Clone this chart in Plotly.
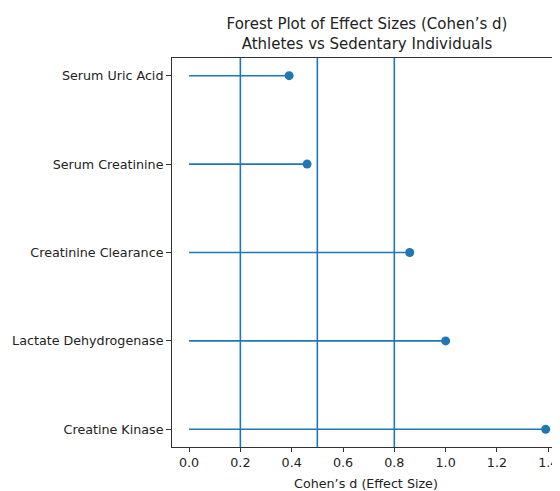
import plotly.graph_objects as go

categories = ["Creatine Kinase", "Lactate Dehydrogenase", "Creatinine Clearance",
              "Serum Creatinine", "Serum Uric Acid"]
effect_sizes = [1.39, 1.00, 0.86, 0.46, 0.39]
thresholds = [0.2, 0.5, 0.8]
x_ticks = [0.0, 0.2, 0.4, 0.6, 0.8, 1.0, 1.2, 1.4]

blue = "#1f77b4"
font = "DejaVu Sans"

fig = go.Figure()
ypos = list(range(len(categories)))
for i, v in zip(ypos, effect_sizes):
    fig.add_trace(go.Scatter(x=[0, v], y=[i, i], mode="lines",
                             line=dict(color=blue, width=1.6), showlegend=False,
                             hoverinfo="skip"))
fig.add_trace(go.Scatter(x=effect_sizes, y=ypos, mode="markers",
                         marker=dict(color=blue, size=9), showlegend=False))
for t in thresholds:
    fig.add_vline(x=t, line=dict(color=blue, width=1.6))

H = 483
fig.update_layout(
    width=552, height=H,
    margin=dict(l=164, r=0, t=50, b=H - 439),
    plot_bgcolor="white", paper_bgcolor="white",
    font=dict(family=font, size=12.7, color="#222"),
    xaxis=dict(range=[-0.0665, 1.4458], tickvals=x_ticks,
               ticktext=[f"{v:.1f}" for v in x_ticks],
               showgrid=False, zeroline=False, showline=True, mirror=True,
               linecolor="#333", linewidth=1, ticks="outside", ticklen=4,
               tickcolor="#333", automargin=False,
               title=dict(text="Cohen’s d (Effect Size)", standoff=10,
                          font=dict(size=12.7))),
    yaxis=dict(range=[-0.2, 4.2], tickvals=ypos, ticktext=categories,
               showgrid=False, zeroline=False, showline=True,
               linecolor="#333", linewidth=1, ticks="outside", ticklen=5,
               tickcolor="#333", automargin=False),
    title=dict(text="Forest Plot of Effect Sizes (Cohen’s d)<br>Athletes vs Sedentary Individuals",
               xref="paper", x=0.5026, xanchor="center",
               yref="container", y=1 - 21 / H, yanchor="top",
               font=dict(size=15)),
)
fig.write_html("out.html")
